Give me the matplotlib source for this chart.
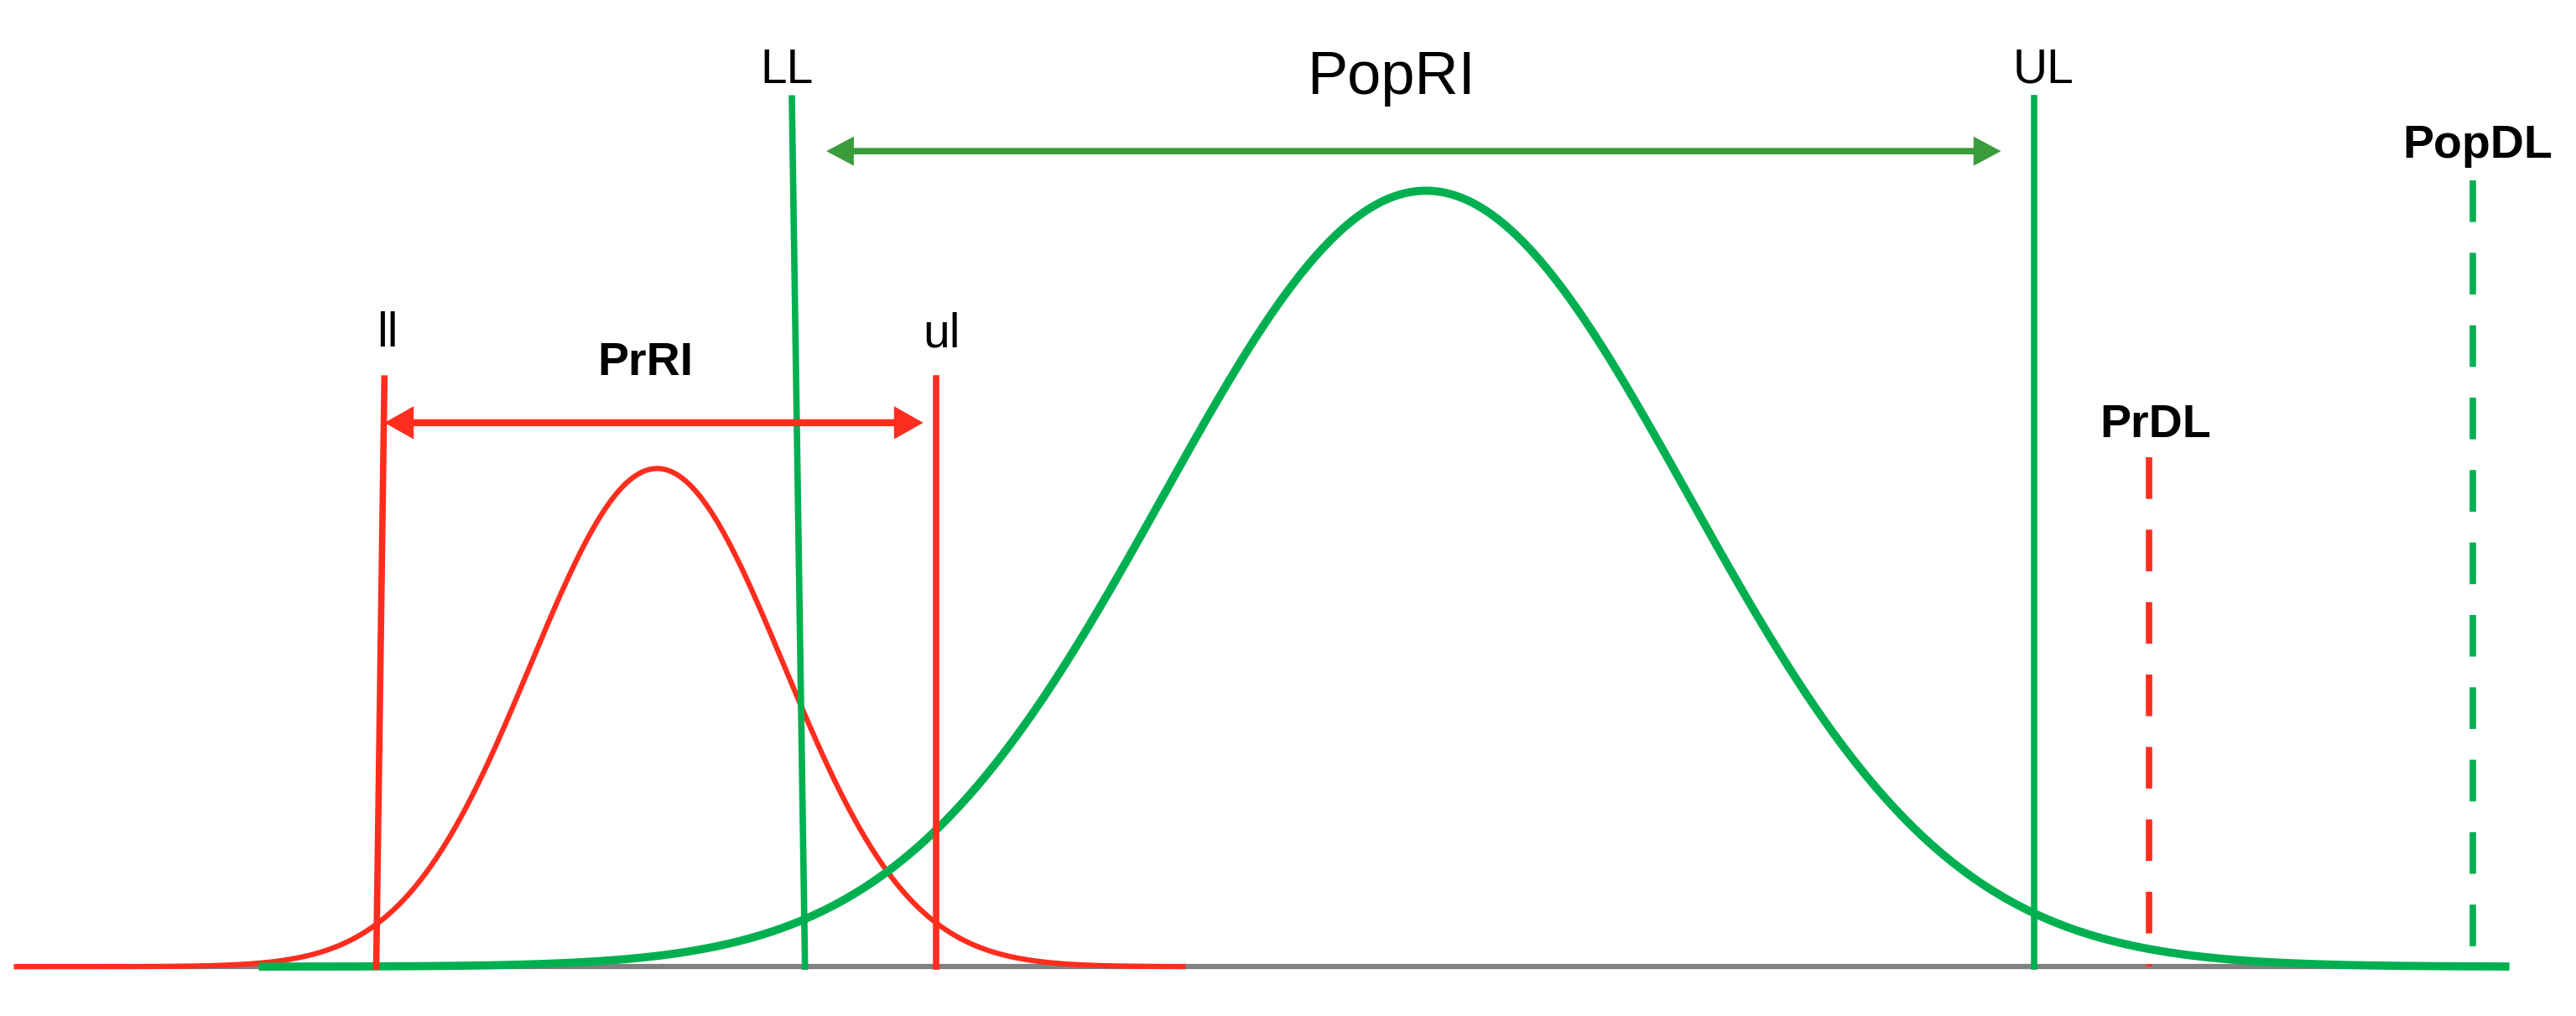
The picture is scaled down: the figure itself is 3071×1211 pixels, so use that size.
import numpy as np
import matplotlib
matplotlib.use("Agg")
import matplotlib.pyplot as plt

# population and individual (personal) distributions, arbitrary units
pop_mean, pop_sd, pop_peak = 8.68, 1.60, 1.0
pr_mean, pr_sd, pr_peak = 4.00, 0.77, 0.642

# limits: (x_top, x_bottom), top height
ll_x, ul_x = (2.34, 2.29), (5.70, 5.70)
LL_x, UL_x = (4.82, 4.90), (12.38, 12.38)
lim_top_pr, lim_top_pop = 0.758, 1.119
prdl_x, prdl_top = 13.08, 0.657
popdl_x, popdl_top = 15.05, 1.013

# interval arrows: (start, end, height)
prri_arrow = (2.34, 5.62, 0.701)
popri_arrow = (5.03, 12.18, 1.051)

# labels: (text, x, baseline y, size, weight)
labels = [
    ("ll", 2.36, 0.799, 41, "normal"),
    ("ul", 5.73, 0.799, 41, "normal"),
    ("PrRI", 3.93, 0.763, 40, "bold"),
    ("LL", 4.79, 1.139, 41, "normal"),
    ("UL", 12.44, 1.139, 41, "normal"),
    ("PopRI", 8.47, 1.125, 52, "normal"),
    ("PrDL", 13.12, 0.682, 40, "bold"),
    ("PopDL", 15.08, 1.043, 40, "bold"),
]

RED = "#ff2d1e"
GREEN = "#00b050"
ARROW_GREEN = "#3a9c3a"

plt.rcParams["font.family"] = ["Liberation Sans", "DejaVu Sans"]


def gauss(x, m, s, h):
    return h * np.exp(-0.5 * ((x - m) / s) ** 2)


fig = plt.figure(figsize=(30.71, 12.11), dpi=100)
ax = fig.add_axes([0, 0, 1, 1])
ax.set_xlim(0, 15.68)
ax.set_ylim(-0.0636, 1.2458)
ax.axis("off")

# baseline
ax.plot([0.10, 15.25], [0, 0], color="#808080", lw=4.5, solid_capstyle="butt", zorder=1)

x_pr = np.linspace(0.10, 7.2, 400)
ax.plot(x_pr, gauss(x_pr, pr_mean, pr_sd, pr_peak), color=RED, lw=4.5, zorder=3)
x_pop = np.linspace(1.6, 15.25, 600)
ax.plot(x_pop, gauss(x_pop, pop_mean, pop_sd, pop_peak), color=GREEN, lw=7, zorder=3)

# reference limits
for xs in (ll_x, ul_x):
    ax.plot(xs, [lim_top_pr, 0], color=RED, lw=5.5, zorder=4)
for xs in (LL_x, UL_x):
    ax.plot(xs, [lim_top_pop, 0], color=GREEN, lw=5.5, zorder=4)

ax.plot([prdl_x, prdl_x], [prdl_top, 0], color=RED, lw=5.5, dashes=(6.5, 4.8), zorder=4)
ax.plot([popdl_x, popdl_x], [popdl_top, 0], color=GREEN, lw=5.5, dashes=(6.5, 4.8), zorder=4)

# interval arrows
ax.annotate("", xy=(prri_arrow[0], prri_arrow[2]), xytext=(prri_arrow[1], prri_arrow[2]),
            arrowprops=dict(arrowstyle="<|-|>,head_length=0.8,head_width=0.45",
                            color=RED, lw=6, shrinkA=0, shrinkB=0, mutation_scale=20,
                            joinstyle="miter", capstyle="butt"),
            zorder=5)
ax.annotate("", xy=(popri_arrow[0], popri_arrow[2]), xytext=(popri_arrow[1], popri_arrow[2]),
            arrowprops=dict(arrowstyle="<|-|>,head_length=0.75,head_width=0.4",
                            color=ARROW_GREEN, lw=5.5, shrinkA=0, shrinkB=0, mutation_scale=20,
                            joinstyle="miter", capstyle="butt"),
            zorder=5)

for txt, x, y, size, weight in labels:
    ax.text(x, y, txt, fontsize=size, fontweight=weight, ha="center", va="baseline")

fig.savefig("out.png", dpi=100, facecolor="white")
